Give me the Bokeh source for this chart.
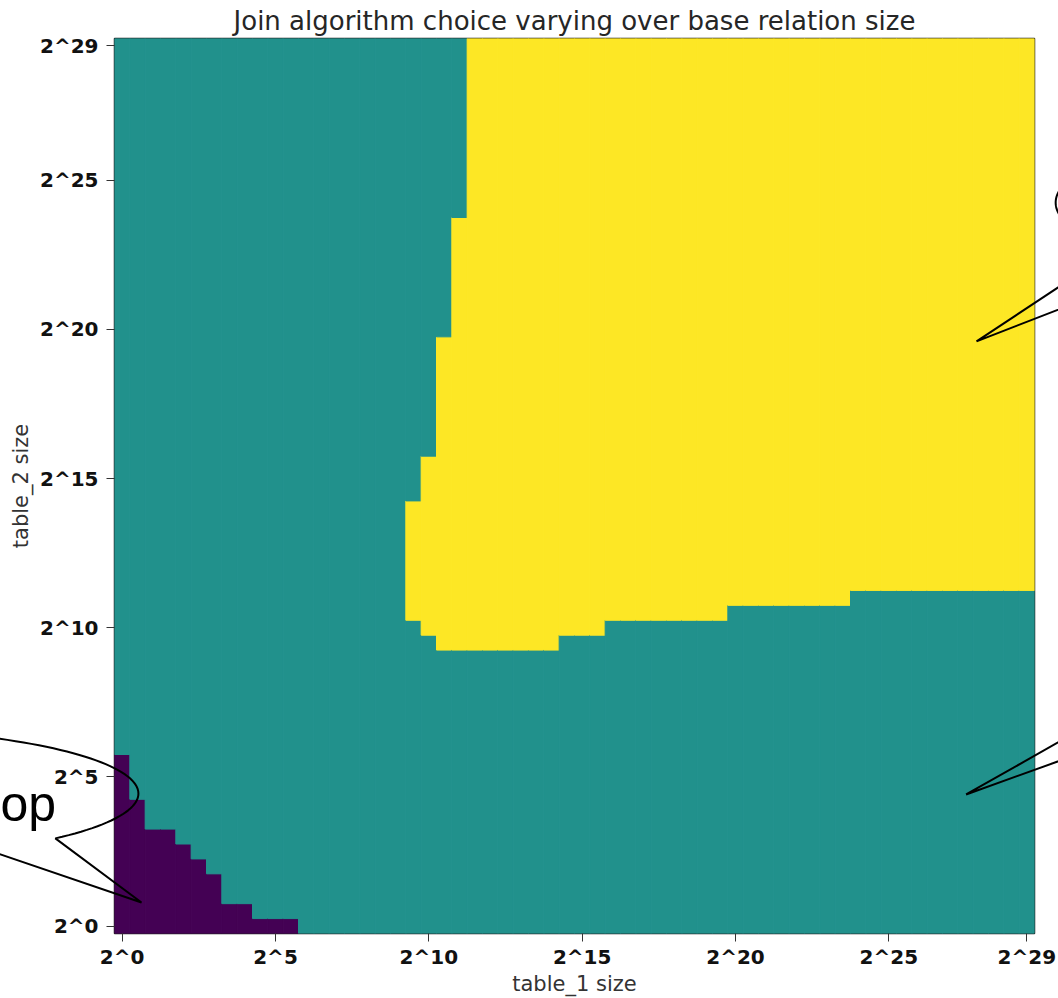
import numpy as np
from bokeh.plotting import figure
from bokeh.models import Range1d, FixedTicker, ColumnDataSource
from bokeh.core.properties import value
from bokeh.embed import file_html
from bokeh.resources import INLINE

# ---------------- data ----------------
title_text = "Join algorithm choice varying over base relation size"
x_label = "table_1 size"
y_label = "table_2 size"

# log2 sizes of the grid (both axes), step 0.5
exps = [i * 0.5 for i in range(60)]
tick_pos = [0, 5, 10, 15, 20, 25, 29.5]
tick_labels = ["2^0", "2^5", "2^10", "2^15", "2^20", "2^25", "2^29"]

# algorithm codes -> viridis colours
palette = ["#440154", "#21918c", "#fde725"]

# region 0 (purple): per table_1 column (starting at 2^0), highest table_2 exponent
nl_max_exp = [5.5, 4.0, 3.0, 3.0, 2.5, 2.0, 1.5, 0.5, 0.5, 0.0, 0.0, 0.0]

# region 2 (yellow): columns starting at table_1 exponent 9.5
hj_first_exp = 9.5
hj_min_exp = [10.5, 10.0] + [9.5] * 8 + [10.0] * 3 + [10.5] * 8 + [11.0] * 8 + [11.5] * 12
hj_max_exp = [14.0, 15.5, 19.5, 23.5] + [29.5] * 37

# ---------------- build cells ----------------
half = 0.25
L, R, B, T, C = [], [], [], [], []
hj_start = exps.index(hj_first_exp)
for i, xe in enumerate(exps):
    col = []
    for ye in exps:
        if i < len(nl_max_exp) and ye <= nl_max_exp[i]:
            k = 0
        elif i >= hj_start and hj_min_exp[i - hj_start] <= ye <= hj_max_exp[i - hj_start]:
            k = 2
        else:
            k = 1
        col.append(k)
    start = 0
    for j in range(1, len(exps) + 1):
        if j == len(exps) or col[j] != col[start]:
            L.append(xe - half); R.append(xe + half)
            B.append(exps[start] - half); T.append(exps[j - 1] + half)
            C.append(palette[col[start]])
            start = j

src = ColumnDataSource(dict(left=L, right=R, bottom=B, top=T, color=C))

p = figure(width=1058, height=998, output_backend="svg", toolbar_location=None,
           x_range=Range1d(-0.25, 29.75), y_range=Range1d(-0.25, 29.75),
           min_border_left=114, min_border_right=24, min_border_top=38, min_border_bottom=65,
           title=title_text)
p.quad(left="left", right="right", bottom="bottom", top="top", source=src,
       fill_color="color", line_color="color", line_width=1)

p.title.text_font = "DejaVu Sans"
p.title.text_font_size = "26px"
p.title.text_font_style = "normal"
p.title.text_color = "#262626"
p.title.align = "center"
p.title.standoff = 5

p.xgrid.visible = False
p.ygrid.visible = False
p.outline_line_color = "#222222"
p.outline_line_width = 1.5
p.background_fill_color = "white"
p.border_fill_color = "white"

for ax in (p.xaxis[0], p.yaxis[0]):
    ax.ticker = FixedTicker(ticks=tick_pos)
    ax.major_label_overrides = {t: l for t, l in zip(tick_pos, tick_labels)}
    ax.major_label_text_font = "DejaVu Sans"
    ax.major_label_text_font_style = "bold"
    ax.major_label_text_font_size = "20px"
    ax.major_label_text_color = "#111111"
    ax.axis_label_text_font = "DejaVu Sans"
    ax.axis_label_text_font_style = "normal"
    ax.axis_label_text_font_size = "21px"
    ax.axis_label_text_color = "#333333"
    ax.major_tick_out = 8
    ax.major_tick_in = 0
    ax.minor_tick_out = 0
    ax.minor_tick_in = 0
    ax.major_tick_line_color = "#333333"
    ax.axis_line_color = None
p.xaxis.axis_label = x_label
p.yaxis.axis_label = y_label
p.xaxis.major_label_standoff = 3
p.yaxis.major_label_standoff = 8
p.xaxis.axis_label_standoff = 0
p.yaxis.axis_label_standoff = 4

# ---------------- callouts (drawn above the frame, overlay level) ----------------
t = np.radians(np.linspace(-42.8, 180, 120))
ecx, ecy, ea, eb = -9.64, 4.44, 10.17, 2.21
bx = [-4.62, 0.63] + list(ecx + ea * np.cos(t))
by = [2.63, 0.79] + list(ecy + eb * np.sin(t))
p.line(bx, by, line_color="black", line_width=2, level="overlay")

t2 = np.radians(np.linspace(0, 360, 200))
p.line(list(35.33 + 4.89 * np.cos(t2)), list(24.25 + 1.84 * np.sin(t2)),
       line_color="black", line_width=2, level="overlay")
p.line([31.25, 27.86, 31.25], [21.90, 19.60, 20.95], line_color="black", line_width=2,
       level="overlay")
p.line([31.25, 27.52, 31.25], [6.58, 4.41, 5.79], line_color="black", line_width=2,
       level="overlay")
p.text(x=[-3.97], y=[4.08], text=["op"], text_font=value("Liberation Sans"),
       text_font_size="50px", text_align="left", text_baseline="alphabetic",
       text_color="black", level="overlay")

open("out.html", "w").write(file_html(p, INLINE))
